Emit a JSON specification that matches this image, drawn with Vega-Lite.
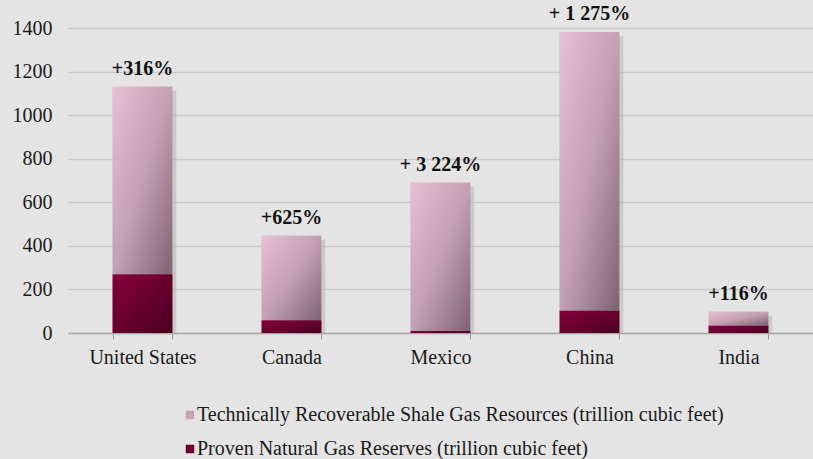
{
  "$schema": "https://vega.github.io/schema/vega-lite/v6.json",
  "width": 745,
  "height": 305,
  "autosize": {"type": "none"},
  "padding": {"left": 68, "top": 28, "right": 0, "bottom": 126},
  "background": "#e4e4e4",
  "config": {
    "view": {"stroke": null},
    "font": "Times New Roman, Liberation Serif, serif",
    "axis": {"labelFont": "Times New Roman, Liberation Serif, serif"},
    "legend": {"labelFont": "Times New Roman, Liberation Serif, serif"},
    "text": {"font": "Times New Roman, Liberation Serif, serif"}
  },
  "data": {
    "values": [
      {"country": "United States", "series": "Proven Natural Gas Reserves (trillion cubic feet)", "value": 270, "label": "+316%"},
      {"country": "United States", "series": "Technically Recoverable Shale Gas Resources  (trillion cubic feet)", "value": 860, "label": "+316%"},
      {"country": "Canada", "series": "Proven Natural Gas Reserves (trillion cubic feet)", "value": 58, "label": "+625%"},
      {"country": "Canada", "series": "Technically Recoverable Shale Gas Resources  (trillion cubic feet)", "value": 388, "label": "+625%"},
      {"country": "Mexico", "series": "Proven Natural Gas Reserves (trillion cubic feet)", "value": 10, "label": "+ 3 224%"},
      {"country": "Mexico", "series": "Technically Recoverable Shale Gas Resources  (trillion cubic feet)", "value": 680, "label": "+ 3 224%"},
      {"country": "China", "series": "Proven Natural Gas Reserves (trillion cubic feet)", "value": 103, "label": "+ 1 275%"},
      {"country": "China", "series": "Technically Recoverable Shale Gas Resources  (trillion cubic feet)", "value": 1277, "label": "+ 1 275%"},
      {"country": "India", "series": "Proven Natural Gas Reserves (trillion cubic feet)", "value": 35, "label": "+116%"},
      {"country": "India", "series": "Technically Recoverable Shale Gas Resources  (trillion cubic feet)", "value": 62, "label": "+116%"}
    ]
  },
  "encoding": {
    "x": {
      "field": "country",
      "type": "nominal",
      "sort": ["United States", "Canada", "Mexico", "China", "India"],
      "scale": {"paddingInner": 0.6, "paddingOuter": 0.3},
      "axis": {
        "title": null,
        "labelAngle": 0,
        "labelFont": "Times New Roman, Liberation Serif, serif",
        "labelFontSize": 20,
        "labelColor": "#1a1a1a",
        "labelPadding": 8,
        "tickBand": "extent",
        "tickColor": "#9a9a9a",
        "tickSize": 6,
        "domainColor": "#a8a8a8",
        "domainWidth": 1.5,
        "grid": false
      }
    }
  },
  "layer": [
    {
      "mark": {"type": "bar", "color": "#b0b0b0", "opacity": 0.5, "xOffset": 4, "yOffset": 4},
      "encoding": {
        "y": {
          "aggregate": "sum",
          "field": "value",
          "type": "quantitative",
          "scale": {"domain": [0, 1400], "nice": false},
          "axis": {
            "title": null,
            "values": [0, 200, 400, 600, 800, 1000, 1200, 1400],
            "format": "d",
            "labelFont": "Times New Roman, Liberation Serif, serif",
            "labelFontSize": 20,
            "labelColor": "#1a1a1a",
            "labelPadding": 16,
            "ticks": false,
            "domain": false,
            "gridColor": "#c9c9c9",
            "gridWidth": 1.5
          }
        }
      }
    },
    {
      "mark": {"type": "bar"},
      "encoding": {
        "y": {"field": "value", "type": "quantitative", "stack": "zero"},
        "color": {
          "field": "series",
          "type": "nominal",
          "scale": {
            "domain": ["Technically Recoverable Shale Gas Resources  (trillion cubic feet)", "Proven Natural Gas Reserves (trillion cubic feet)"],
            "range": ["#c7a2b5", "#6e0030"]
          },
          "legend": {
            "title": null,
            "orient": "none",
            "legendX": 112,
            "legendY": 377,
            "direction": "vertical",
            "symbolType": "square",
            "symbolSize": 72,
            "symbolStrokeWidth": 0,
            "labelFont": "Times New Roman, Liberation Serif, serif",
            "labelFontSize": 20,
            "labelColor": "#1a1a1a",
            "labelOffset": -3,
            "rowPadding": 14,
            "labelLimit": 700
          }
        },
        "order": {"field": "series", "sort": "ascending"}
      }
    },
    {
      "mark": {"type": "bar"},
      "encoding": {
        "y": {"field": "value", "type": "quantitative", "stack": "zero"},
        "detail": {"field": "series"},
        "order": {"field": "series", "sort": "ascending"},
        "fill": {
          "condition": {
            "test": "datum.series === 'Proven Natural Gas Reserves (trillion cubic feet)'",
            "value": {"gradient": "linear", "x1": 0, "y1": 0, "x2": 1, "y2": 1, "stops": [{"offset": 0, "color": "#85003c"}, {"offset": 1, "color": "#4a0020"}]}
          },
          "value": {"gradient": "linear", "x1": 0, "y1": 0, "x2": 1, "y2": 1, "stops": [{"offset": 0, "color": "#e7c0d4"}, {"offset": 0.5, "color": "#c3a0b2"}, {"offset": 1, "color": "#7d6373"}]}
        }
      }
    },
    {
      "mark": {"type": "text", "font": "Times New Roman, Liberation Serif, serif", "fontSize": 20, "fontWeight": "bold", "baseline": "alphabetic", "dy": -12, "color": "#111111"},
      "encoding": {
        "y": {"aggregate": "sum", "field": "value", "type": "quantitative"},
        "text": {"field": "label", "type": "nominal"}
      }
    }
  ]
}
